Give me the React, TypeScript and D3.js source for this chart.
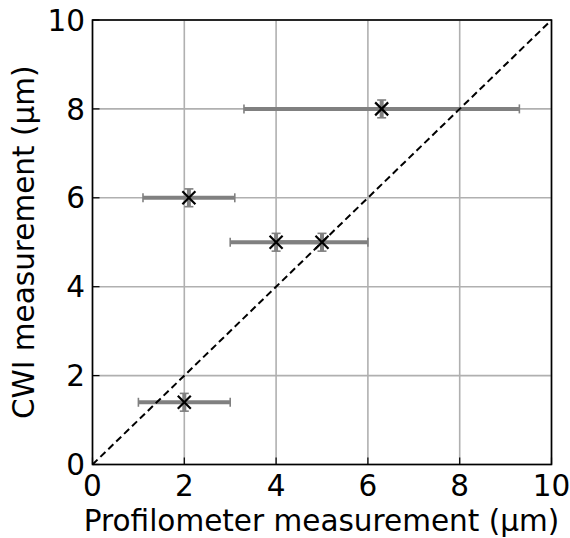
import React from "react";
import * as d3 from "d3";

const xValues = [6.3, 2.1, 4.0, 5.0, 2.0];
const yValues = [8, 6, 5, 5, 1.4];
const xErrors = [3.0, 1.0, 1.0, 1.0, 1.0];
const yErrors = [0.2, 0.2, 0.2, 0.2, 0.2];
const tickValues = [0, 2, 4, 6, 8, 10];
const xLabel = "Profilometer measurement (μm)";
const yLabel = "CWI measurement (μm)";

const W = 570;
const H = 538;
const L = 92.5, R = 551.5, T = 20, B = 464.5;

export default function App() {
  const x = d3.scaleLinear().domain([0, 10]).range([L, R]);
  const y = d3.scaleLinear().domain([0, 10]).range([B, T]);
  const font = "'DejaVu Sans', sans-serif";
  const fs = 29.5;
  const grey = "#808080";
  const pts = xValues.map((v, i) => ({ x: v, y: yValues[i], xe: xErrors[i], ye: yErrors[i] }));
  const diag = d3.line<number>().x((d) => x(d)).y((d) => y(d))([0, 10]) || "";
  const ms = 6.5;
  return (
    <svg width={W} height={H} style={{ position: "absolute", left: 0, top: 0, background: "#fff" }}>
      <rect x={0} y={0} width={W} height={H} fill="#fff" />
      {tickValues.map((t) => (
        <g key={"g" + t}>
          <line x1={x(t)} x2={x(t)} y1={T} y2={B} stroke="#b0b0b0" strokeWidth={1.6} />
          <line x1={L} x2={R} y1={y(t)} y2={y(t)} stroke="#b0b0b0" strokeWidth={1.6} />
        </g>
      ))}
      {pts.map((p, i) => (
        <g key={"e" + i} stroke={grey}>
          <line x1={x(p.x - p.xe)} x2={x(p.x + p.xe)} y1={y(p.y)} y2={y(p.y)} strokeWidth={4} />
          <line x1={x(p.x - p.xe)} x2={x(p.x - p.xe)} y1={y(p.y) - 4.5} y2={y(p.y) + 4.5} strokeWidth={1.6} />
          <line x1={x(p.x + p.xe)} x2={x(p.x + p.xe)} y1={y(p.y) - 4.5} y2={y(p.y) + 4.5} strokeWidth={1.6} />
        </g>
      ))}
      {pts.map((p, i) => (
        <g key={"ye" + i} stroke={grey}>
          <line x1={x(p.x)} x2={x(p.x)} y1={y(p.y - p.ye)} y2={y(p.y + p.ye)} strokeWidth={4} />
          <line x1={x(p.x) - 4.5} x2={x(p.x) + 4.5} y1={y(p.y - p.ye)} y2={y(p.y - p.ye)} strokeWidth={1.6} />
          <line x1={x(p.x) - 4.5} x2={x(p.x) + 4.5} y1={y(p.y + p.ye)} y2={y(p.y + p.ye)} strokeWidth={1.6} />
        </g>
      ))}
      <path d={diag} stroke="#000" strokeWidth={2} strokeDasharray="7,4" fill="none" />
      {pts.map((p, i) => (
        <g key={"m" + i} stroke="#000" strokeWidth={2.2}>
          <line x1={x(p.x) - ms} x2={x(p.x) + ms} y1={y(p.y) - ms} y2={y(p.y) + ms} />
          <line x1={x(p.x) - ms} x2={x(p.x) + ms} y1={y(p.y) + ms} y2={y(p.y) - ms} />
        </g>
      ))}
      {tickValues.map((t) => (
        <g key={"t" + t} stroke="#000" strokeWidth={1.2}>
          <line x1={x(t)} x2={x(t)} y1={B} y2={B - 7} />
          <line x1={L} x2={L + 7} y1={y(t)} y2={y(t)} />
        </g>
      ))}
      <rect x={L} y={T} width={R - L} height={B - T} fill="none" stroke="#000" strokeWidth={1.6} />
      {tickValues.map((t) => (
        <text key={"xl" + t} x={x(t)} y={495.5} textAnchor="middle" fontFamily={font} fontSize={fs} fill="#000">
          {t}
        </text>
      ))}
      {tickValues.map((t) => (
        <text key={"yl" + t} x={85} y={y(t)} dy="0.36em" textAnchor="end" fontFamily={font} fontSize={fs} fill="#000">
          {t}
        </text>
      ))}
      <text x={(L + R) / 2 - 0.5} y={531} textAnchor="middle" fontFamily={font} fontSize={fs} fill="#000">
        {xLabel}
      </text>
      <text transform={`translate(34, ${(T + B) / 2}) rotate(-90)`} textAnchor="middle" fontFamily={font} fontSize={fs} fill="#000">
        {yLabel}
      </text>
    </svg>
  );
}
